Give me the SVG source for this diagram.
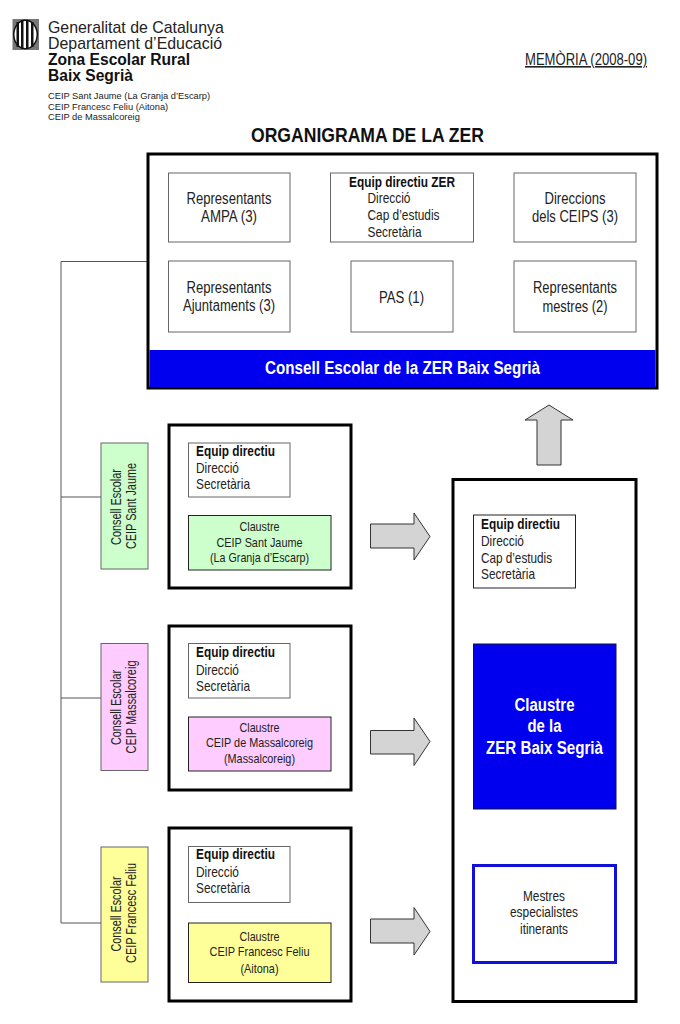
<svg xmlns="http://www.w3.org/2000/svg" width="680" height="1024" viewBox="0 0 680 1024">
<style>
text{font-family:"Liberation Sans",Arial,sans-serif;fill:#222;font-size:15px}
.c{text-anchor:middle}
.b{font-weight:bold;fill:#111}
.thick{fill:#fff;stroke:#000;stroke-width:3}
.thin{fill:#fff;stroke:#666;stroke-width:1}
.dark{stroke:#222}
.arrow{fill:#d4d4d4;stroke:#333;stroke-width:1}
.line{fill:none;stroke:#555;stroke-width:1}
.w{font-weight:bold;font-size:18px;fill:#fff}
.m{font-size:16px}
.s{font-size:13px}
.v{font-size:14px}
.t{font-size:9.300px}
</style>
<rect width="680" height="1024" fill="#fff"/>
<g id="logo">
<rect x="12.500" y="19" width="26.500" height="31" fill="#777"/>
<ellipse cx="25.500" cy="34.500" rx="12.500" ry="15" fill="#111"/>
<ellipse cx="25.500" cy="34.500" rx="11" ry="13.500" fill="#fff"/>
<rect x="16.500" y="22" width="2.500" height="25" fill="#111"/>
<rect x="21" y="20" width="2.500" height="29" fill="#111"/>
<rect x="26" y="20" width="2.500" height="29" fill="#111"/>
<rect x="31" y="22" width="2.500" height="25" fill="#111"/>
</g>
<g id="header">
<text x="48" y="33" style="font-size:15.900px">Generalitat de Catalunya</text>
<text x="48" y="49" style="font-size:15.900px">Departament d’Educació</text>
<text class="b" x="48" y="65" style="font-size:15.600px">Zona Escolar Rural</text>
<text class="b" x="48" y="81" style="font-size:15.600px">Baix Segrià</text>
<text class="t" x="48" y="99">CEIP Sant Jaume (La Granja d’Escarp)</text>
<text class="t" x="48" y="110">CEIP Francesc Feliu (Aitona)</text>
<text class="t" x="48" y="120">CEIP de Massalcoreig</text>
<text x="586" y="65" class="c" textLength="122" lengthAdjust="spacingAndGlyphs" text-decoration="underline" style="font-size:16px">MEMÒRIA (2008-09)</text>
<text x="367.500" y="142" class="c b" textLength="233" lengthAdjust="spacingAndGlyphs" style="font-size:20.500px">ORGANIGRAMA DE LA ZER</text>
</g>
<g id="connectors">
<path class="line" d="M148 261.500H61V923H101M61 497H101M61 698H101"/>
<path class="arrow" d="M370.500 524H414V513L430 536.500L414 560V548H370.500Z"/>
<path class="arrow" d="M370.500 730.500H414V718L430 741.500L414 765.500V754H370.500Z"/>
<path class="arrow" d="M370.500 919H414V907.500L430 931.500L414 955V943H370.500Z"/>
<path class="arrow" d="M537 465V420H525L549 405L573 420H561V465Z"/>
</g>
<g id="consell-zer">
<rect class="thick" x="148" y="154" width="509" height="234"/>
<rect x="149.500" y="350" width="506" height="37" fill="#0000ee"/>
<text class="w c" x="402.500" y="374" textLength="275" lengthAdjust="spacingAndGlyphs">Consell Escolar de la ZER Baix Segrià</text>
</g>
<g id="ampa"><rect class="thin" x="168.500" y="173" width="121.500" height="69"/><text class="c m" x="229" y="204" textLength="85" lengthAdjust="spacingAndGlyphs">Representants</text><text class="c m" x="229" y="222" textLength="56" lengthAdjust="spacingAndGlyphs">AMPA (3)</text></g>
<g id="equip-zer"><rect class="thin" x="330.500" y="173" width="143" height="69"/><text class="b" x="349" y="187" textLength="106" lengthAdjust="spacingAndGlyphs">Equip directiu ZER</text><text x="367.500" y="203" textLength="43" lengthAdjust="spacingAndGlyphs">Direcció</text><text x="367.500" y="220" textLength="72" lengthAdjust="spacingAndGlyphs">Cap d’estudis</text><text x="367.500" y="237" textLength="54" lengthAdjust="spacingAndGlyphs">Secretària</text></g>
<g id="direccions"><rect class="thin" x="514" y="173" width="122" height="69"/><text class="c m" x="575" y="204" textLength="61" lengthAdjust="spacingAndGlyphs">Direccions</text><text class="c m" x="575" y="222" textLength="86" lengthAdjust="spacingAndGlyphs">dels CEIPS (3)</text></g>
<g id="ajuntaments"><rect class="thin" x="168.500" y="261" width="121.500" height="71"/><text class="c m" x="229" y="293" textLength="85" lengthAdjust="spacingAndGlyphs">Representants</text><text class="c m" x="229" y="311" textLength="92" lengthAdjust="spacingAndGlyphs">Ajuntaments (3)</text></g>
<g id="pas"><rect class="thin" x="351" y="261" width="102" height="71"/><text class="c m" x="401.500" y="303" textLength="45" lengthAdjust="spacingAndGlyphs">PAS (1)</text></g>
<g id="mestres"><rect class="thin" x="514" y="261" width="122" height="71"/><text class="c m" x="575" y="293" textLength="84" lengthAdjust="spacingAndGlyphs">Representants</text><text class="c m" x="575" y="312" textLength="65" lengthAdjust="spacingAndGlyphs">mestres (2)</text></g>

<g id="consell-jaume"><rect x="101" y="443" width="47" height="126" fill="#ccffcc" stroke="#666"/><text class="c v" transform="translate(121 507) rotate(-90)" textLength="76" lengthAdjust="spacingAndGlyphs">Consell Escolar</text><text class="c v" transform="translate(136 506) rotate(-90)" textLength="86" lengthAdjust="spacingAndGlyphs">CEIP Sant Jaume</text></g>
<g id="escola-jaume"><rect class="thick" x="169" y="425" width="182" height="163"/>
<rect class="thin" x="188.500" y="443" width="101.500" height="54"/><text class="b" x="196" y="456" textLength="79" lengthAdjust="spacingAndGlyphs">Equip directiu</text><text x="196" y="473" textLength="43" lengthAdjust="spacingAndGlyphs">Direcció</text><text x="196" y="489" textLength="54" lengthAdjust="spacingAndGlyphs">Secretària</text>
<rect class="thin dark" x="188.500" y="515.500" width="142.500" height="54.500" style="fill:#ccffcc"/><text class="c s" x="259.500" y="531" textLength="40" lengthAdjust="spacingAndGlyphs">Claustre</text><text class="c s" x="259.500" y="547" textLength="86" lengthAdjust="spacingAndGlyphs">CEIP Sant Jaume</text><text class="c s" x="259.500" y="562" textLength="99" lengthAdjust="spacingAndGlyphs">(La Granja d’Escarp)</text></g>

<g id="consell-massalcoreig"><rect x="101" y="643.500" width="47" height="127" fill="#ffccff" stroke="#666"/><text class="c v" transform="translate(121 707.500) rotate(-90)" textLength="75" lengthAdjust="spacingAndGlyphs">Consell Escolar</text><text class="c v" transform="translate(136 707) rotate(-90)" textLength="93" lengthAdjust="spacingAndGlyphs">CEIP Massalcoreig</text></g>
<g id="escola-massalcoreig"><rect class="thick" x="169" y="626" width="182" height="164"/>
<rect class="thin" x="188.500" y="643.500" width="101.500" height="54.500"/><text class="b" x="196" y="657" textLength="79" lengthAdjust="spacingAndGlyphs">Equip directiu</text><text x="196" y="675" textLength="43" lengthAdjust="spacingAndGlyphs">Direcció</text><text x="196" y="691" textLength="54" lengthAdjust="spacingAndGlyphs">Secretària</text>
<rect class="thin dark" x="188.500" y="717" width="142.500" height="54" style="fill:#ffccff"/><text class="c s" x="259.500" y="732" textLength="40" lengthAdjust="spacingAndGlyphs">Claustre</text><text class="c s" x="259.500" y="747" textLength="107" lengthAdjust="spacingAndGlyphs">CEIP de Massalcoreig</text><text class="c s" x="259.500" y="763" textLength="71" lengthAdjust="spacingAndGlyphs">(Massalcoreig)</text></g>

<g id="consell-feliu"><rect x="101" y="847" width="47" height="135" fill="#ffff99" stroke="#666"/><text class="c v" transform="translate(121 914) rotate(-90)" textLength="75" lengthAdjust="spacingAndGlyphs">Consell Escolar</text><text class="c v" transform="translate(135.500 913) rotate(-90)" textLength="100" lengthAdjust="spacingAndGlyphs">CEIP Francesc Feliu</text></g>
<g id="escola-feliu"><rect class="thick" x="169" y="828" width="182" height="173"/>
<rect class="thin" x="188.500" y="846.500" width="101.500" height="56"/><text class="b" x="196" y="859" textLength="79" lengthAdjust="spacingAndGlyphs">Equip directiu</text><text x="196" y="877" textLength="43" lengthAdjust="spacingAndGlyphs">Direcció</text><text x="196" y="893" textLength="54" lengthAdjust="spacingAndGlyphs">Secretària</text>
<rect class="thin dark" x="188.500" y="923" width="142.500" height="59.500" style="fill:#ffff99"/><text class="c s" x="259.500" y="941" textLength="40" lengthAdjust="spacingAndGlyphs">Claustre</text><text class="c s" x="259.500" y="956" textLength="100" lengthAdjust="spacingAndGlyphs">CEIP Francesc Feliu</text><text class="c s" x="259.500" y="973" textLength="38" lengthAdjust="spacingAndGlyphs">(Aitona)</text></g>

<g id="zer"><rect class="thick" x="453" y="479.500" width="183" height="522"/>
<rect class="thin dark" x="473.500" y="515" width="102" height="73"/><text class="b" x="481" y="529" textLength="79" lengthAdjust="spacingAndGlyphs">Equip directiu</text><text x="481" y="546" textLength="43" lengthAdjust="spacingAndGlyphs">Direcció</text><text x="481" y="563" textLength="71" lengthAdjust="spacingAndGlyphs">Cap d’estudis</text><text x="481" y="579" textLength="54" lengthAdjust="spacingAndGlyphs">Secretària</text>
<rect x="473.500" y="644" width="142.500" height="165" fill="#0000ee" stroke="#111144" stroke-width="1"/>
<text class="c w" x="544.500" y="711" textLength="60" lengthAdjust="spacingAndGlyphs">Claustre</text><text class="c w" x="544.500" y="732" textLength="34" lengthAdjust="spacingAndGlyphs">de la</text><text class="c w" x="544.500" y="754" textLength="117" lengthAdjust="spacingAndGlyphs">ZER Baix Segrià</text>
<rect x="473.500" y="865.500" width="142" height="97" fill="#fff" stroke="#1010d8" stroke-width="3"/>
<text class="c v" x="544" y="901" textLength="42" lengthAdjust="spacingAndGlyphs">Mestres</text><text class="c v" x="544" y="917" textLength="68" lengthAdjust="spacingAndGlyphs">especialistes</text><text class="c v" x="544" y="934" textLength="48" lengthAdjust="spacingAndGlyphs">itinerants</text></g>
</svg>
